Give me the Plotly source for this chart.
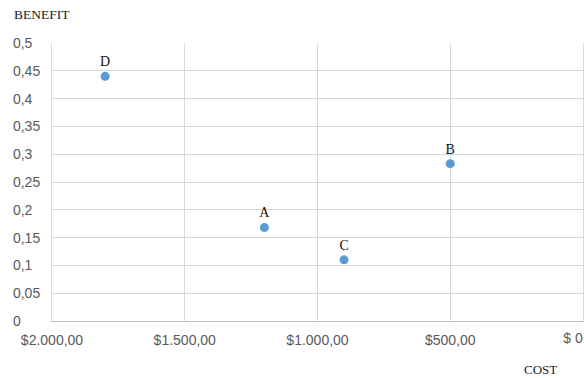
import plotly.graph_objects as go

names = ["D", "A", "C", "B"]
cost = [1800, 1200, 900, 500]
benefit = [0.44, 0.168, 0.11, 0.283]

x_tickvals = [2000, 1500, 1000, 500]
x_ticktext = ["$2.000,00", "$1.500,00", "$1.000,00", "$500,00"]
x_end_tickvals = [0]
x_end_ticktext = ["$ 0"]
y_tickvals = [0, 0.05, 0.1, 0.15, 0.2, 0.25, 0.3, 0.35, 0.4, 0.45, 0.5]
y_ticktext = ["0", "0,05", "0,1", "0,15", "0,2", "0,25", "0,3", "0,35", "0,4", "0,45", "0,5"]

# left-align y tick labels by padding with non-breaking spaces
pad = {1: 5, 3: 2, 4: 0}
y_ticktext_padded = [t + "\u00a0" * pad[len(t)] for t in y_ticktext]

tickfont = dict(family="Liberation Sans", size=14, color="#595959")
plot_w = 531
shift = 10 / plot_w * 2000  # nudge the "$ 0" label inside the page

fig = go.Figure()
fig.add_trace(go.Scatter(
    x=cost, y=benefit, mode="markers+text", text=names,
    textposition="top center",
    textfont=dict(family="Liberation Serif", size=14, color="#111111"),
    marker=dict(color="#5b9bd5", size=9),
    cliponaxis=False, hoverinfo="skip", showlegend=False,
))
fig.add_trace(go.Scatter(x=[1000], y=[0], xaxis="x2", mode="markers",
                         marker=dict(opacity=0), hoverinfo="skip", showlegend=False))

grid = "#d9d9d9"
fig.update_layout(
    width=584, height=378,
    margin=dict(l=52, r=1, t=43, b=57, autoexpand=False),
    paper_bgcolor="white", plot_bgcolor="white",
    separators=",.",
    xaxis=dict(range=[2000, 0], tickvals=x_tickvals, ticktext=x_ticktext,
               showgrid=True, gridcolor=grid, gridwidth=1,
               zeroline=False, showline=True, linecolor="#bfbfbf",
               ticks="", ticklabelstandoff=6, automargin=False,
               tickfont=tickfont),
    xaxis2=dict(range=[2000 - shift, 0 - shift], overlaying="x", side="bottom",
                tickvals=x_end_tickvals, ticktext=x_end_ticktext,
                showgrid=False, zeroline=False, showline=False, ticks="",
                ticklabelstandoff=7, ticklabeloverflow="allow",
                automargin=False, tickfont=tickfont),
    yaxis=dict(range=[0, 0.5], tickvals=y_tickvals, ticktext=y_ticktext_padded,
               showgrid=True, gridcolor=grid, gridwidth=1,
               zeroline=False, showline=True, linecolor=grid, mirror=True,
               ticks="", ticklabelstandoff=8, automargin=False,
               tickfont=tickfont),
    annotations=[
        dict(text="BENEFIT", xref="paper", yref="paper", x=-40/531, y=1 + (43-15)/278,
             xanchor="left", yanchor="middle", showarrow=False,
             font=dict(family="Liberation Serif", size=13.5, color="#222222")),
        dict(text="COST", xref="paper", yref="paper", x=(522-52)/531, y=-(369-321)/278,
             xanchor="left", yanchor="middle", showarrow=False,
             font=dict(family="Liberation Serif", size=13, color="#222222")),
    ],
)

fig.write_html("out.html")
